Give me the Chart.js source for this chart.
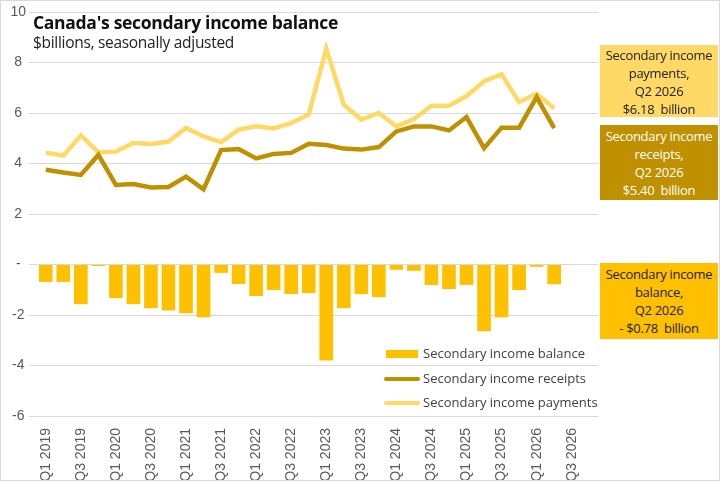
<!DOCTYPE html>
<html>
<head>
<meta charset="utf-8">
<script src="https://cdn.jsdelivr.net/npm/chart.js@4/dist/chart.umd.min.js"></script>
<style>
  html, body { margin: 0; padding: 0; background: #fff; }
  #wrap { position: relative; width: 720px; height: 481px; overflow: hidden; }
  #frame { position: absolute; left: 0; top: 0; width: 720px; height: 481px; box-sizing: border-box;
           border: 1px solid #d9d9d9; pointer-events: none; }
  #title { position: absolute; left: 33px; top: 10px; font: 700 17.5px "Open Sans", sans-serif; color: #111; letter-spacing: -0.3px; }
  #subtitle { position: absolute; left: 33px; top: 31px; font: 400 15.5px "Open Sans", sans-serif; color: #222; letter-spacing: -0.3px; }
  .note { position: absolute; left: 600px; width: 118px; text-align: center;
          font: 400 13px "Open Sans", sans-serif; line-height: 18px; letter-spacing: -0.3px; padding-top: 1px; box-sizing: border-box; }
  #notePay { top: 45px; height: 72px; background: #ffd966; color: #222; }
  #noteRec { top: 125px; height: 75px; background: #bf9000; color: #fff; padding-top: 2px; }
  #noteBal { top: 263px; height: 76px; background: #ffc000; color: #222; padding-top: 2px; }
</style>
</head>
<body>
<div id="wrap">
  <canvas id="myChart" width="720" height="481"></canvas>
  <div id="title">Canada's secondary income balance</div>
  <div id="subtitle">$billions, seasonally adjusted</div>
  <div class="note" id="notePay">Secondary income<br>payments,<br>Q2 2026<br>$6.18&nbsp; billion</div>
  <div class="note" id="noteRec">Secondary income<br>receipts,<br>Q2 2026<br>$5.40&nbsp; billion</div>
  <div class="note" id="noteBal">Secondary income<br>balance,<br>Q2 2026<br>- $0.78&nbsp; billion</div>
  <div id="frame"></div>
</div>
<script>
var quarters = [];
for (var y = 2019; y <= 2026; y++) {
    for (var q = 1; q <= 4; q++) {
        quarters.push('Q' + q + ' ' + y);
    }
}

// $billions, Q1 2019 .. Q2 2026
var balance = [-0.69, -0.69, -1.57, -0.06, -1.33, -1.57, -1.73, -1.82, -1.93, -2.09,
               -0.33, -0.77, -1.25, -1.01, -1.17, -1.13, -3.80, -1.73, -1.17, -1.29,
               -0.21, -0.25, -0.81, -0.97, -0.81, -2.64, -2.09, -1.01, -0.09, -0.78];
var receipts = [3.75, 3.64, 3.55, 4.34, 3.15, 3.19, 3.05, 3.07, 3.48, 2.98,
                4.53, 4.57, 4.20, 4.38, 4.42, 4.78, 4.73, 4.59, 4.55, 4.65,
                5.27, 5.47, 5.47, 5.31, 5.84, 4.61, 5.42, 5.42, 6.63, 5.40];
var payments = [4.43, 4.31, 5.11, 4.45, 4.47, 4.81, 4.77, 4.87, 5.41, 5.07,
                4.85, 5.34, 5.47, 5.39, 5.60, 5.94, 8.55, 6.33, 5.74, 6.00,
                5.47, 5.76, 6.29, 6.29, 6.67, 7.26, 7.53, 6.43, 6.77, 6.18];

var yTicks = [-6, -4, -2, 0, 2, 4, 6, 8, 10];

// legend drawn inside the plot, bottom right
var insideLegend = {
    id: 'insideLegend',
    afterDraw: function(chart) {
        var ctx = chart.ctx;
        var x0 = 386, rows = [354, 379, 403];
        ctx.save();
        ctx.font = '13px "Open Sans", sans-serif';
        ctx.textBaseline = 'middle';
        chart.data.datasets.forEach(function(ds, i) {
            var yy = rows[i];
            if (ds.type === 'bar') {
                ctx.fillStyle = ds.backgroundColor;
                ctx.fillRect(x0, yy - 4, 32, 8);
            } else {
                ctx.strokeStyle = ds.borderColor;
                ctx.lineWidth = 4;
                ctx.lineCap = 'round';
                ctx.beginPath();
                ctx.moveTo(x0, yy);
                ctx.lineTo(x0 + 32, yy);
                ctx.stroke();
            }
            ctx.fillStyle = '#404040';
            ctx.fillText(ds.label, x0 + 37, yy);
        });
        ctx.restore();
    }
};

var config = {
    data: {
        labels: quarters,
        datasets: [
            {
                type: 'bar',
                label: 'Secondary income balance',
                data: balance,
                backgroundColor: '#ffc000',
                categoryPercentage: 1,
                barPercentage: 0.78,
                order: 3
            },
            {
                type: 'line',
                label: 'Secondary income receipts',
                data: receipts,
                borderColor: '#bf9000',
                borderWidth: 4.5,
                pointRadius: 0,
                tension: 0,
                order: 1
            },
            {
                type: 'line',
                label: 'Secondary income payments',
                data: payments,
                borderColor: '#ffd966',
                borderWidth: 4.5,
                pointRadius: 0,
                tension: 0,
                order: 2
            }
        ]
    },
    options: {
        responsive: false,
        animation: false,
        layout: { padding: { top: 12, right: 122, left: 0, bottom: 0 } },
        plugins: {
            legend: { display: false },
            tooltip: { enabled: false }
        },
        scales: {
            x: {
                grid: { display: false },
                border: { display: false },
                ticks: {
                    autoSkip: false,
                    maxRotation: 90,
                    minRotation: 90,
                    padding: 4,
                    color: '#595959',
                    font: { family: '"Liberation Sans", Arial, sans-serif', size: 14 },
                    callback: function(v, i) { return i % 2 === 0 ? quarters[i] : ''; }
                },
                afterFit: function(scale) { scale.height = 65; }
            },
            y: {
                min: yTicks[0],
                max: yTicks[yTicks.length - 1],
                afterBuildTicks: function(scale) {
                    scale.ticks = yTicks.map(function(v) { return { value: v }; });
                },
                grid: { color: '#d9d9d9', lineWidth: 1 },
                border: { display: false },
                ticks: {
                    color: '#595959',
                    crossAlign: 'center',
                    font: { family: '"Liberation Sans", Arial, sans-serif', size: 14 },
                    callback: function(v) { return v === 0 ? '-' : v; }
                },
                afterFit: function(scale) { scale.width = 37; }
            }
        }
    },
    plugins: [insideLegend]
};

var myChart = new Chart(document.querySelector('#myChart').getContext('2d'), config);
</script>
</body>
</html>
